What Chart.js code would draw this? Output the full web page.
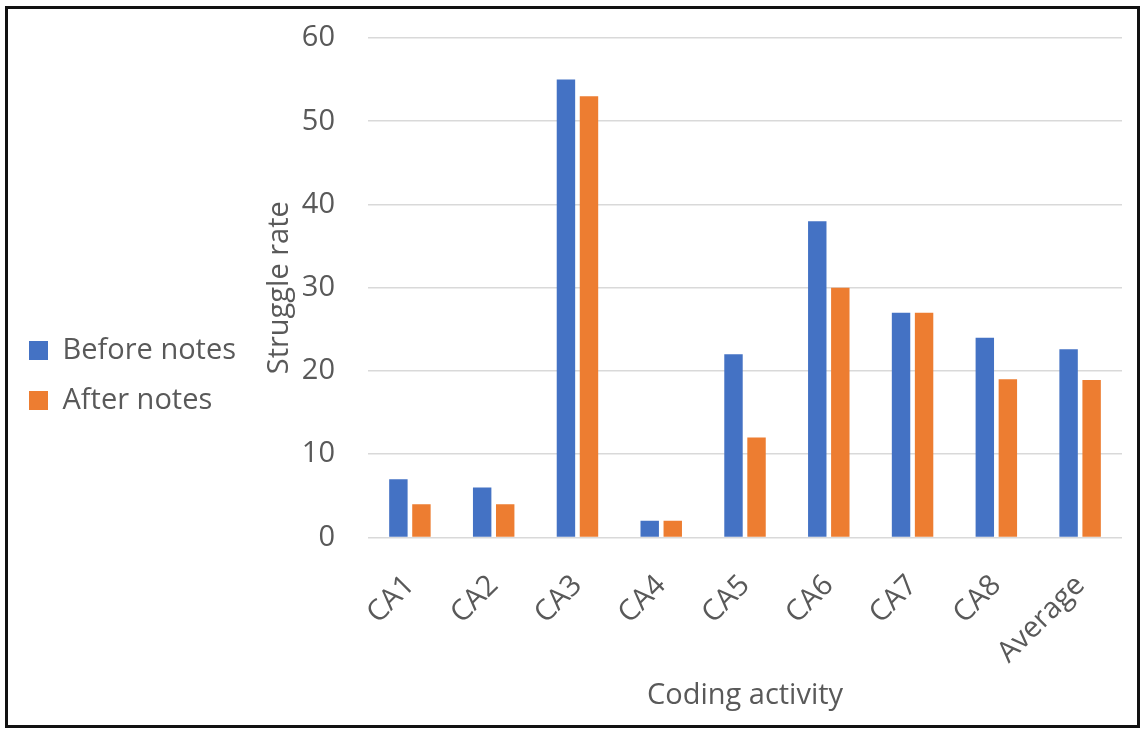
<!DOCTYPE html>
<html>
<head>
<meta charset="utf-8">
<script src="https://cdn.jsdelivr.net/npm/chart.js@4/dist/chart.umd.min.js"></script>
<style>
    html, body { margin: 0; padding: 0; background: #fff; }
    #chart-box { position: absolute; left: 0; top: 0; width: 1144px; height: 729px; }
    #frame {
        position: absolute;
        left: 5px; top: 6px;
        width: 1135px; height: 722px;
        border: 3px solid #111;
        box-sizing: border-box;
        pointer-events: none;
    }
</style>
</head>
<body>
<div id="chart-box"><canvas id="struggle-chart"></canvas></div>
<div id="frame"></div>
<script>
// Chart data
const activities = ['CA1', 'CA2', 'CA3', 'CA4', 'CA5', 'CA6', 'CA7', 'CA8', 'Average'];
const beforeNotes = [7, 6, 55, 2, 22, 38, 27, 24, 22.6];
const afterNotes = [4, 4, 53, 2, 12, 30, 27, 19, 18.9];
const yTicks = [0, 10, 20, 30, 40, 50, 60];

const textColor = '#595959';
const fontFamily = '"Open Sans", "Noto Sans", sans-serif';
const fontSize = 29;

new Chart(document.getElementById('struggle-chart'), {
    type: 'bar',
    data: {
        labels: activities,
        datasets: [
            {
                label: 'Before notes',
                data: beforeNotes,
                backgroundColor: '#4472C4',
                categoryPercentage: 0.55,
                barPercentage: 0.8,
            },
            {
                label: 'After notes',
                data: afterNotes,
                backgroundColor: '#ED7D31',
                categoryPercentage: 0.55,
                barPercentage: 0.8,
            }
        ]
    },
    options: {
        responsive: true,
        maintainAspectRatio: false,
        animation: false,
        layout: { autoPadding: false, padding: { left: 8, right: 22, top: 38, bottom: 16 } },
        plugins: {
            legend: {
                position: 'left',
                labels: {
                    color: textColor,
                    font: { family: fontFamily, size: fontSize },
                    boxWidth: 19,
                    boxHeight: 19,
                    padding: 21,
                }
            },
            tooltip: { enabled: false },
        },
        scales: {
            x: {
                grid: { display: false },
                border: { display: false },
                ticks: {
                    color: textColor,
                    font: { family: fontFamily, size: fontSize },
                    maxRotation: 45,
                    minRotation: 45,
                    padding: 23,
                },
                title: {
                    display: true,
                    text: 'Coding activity',
                    color: textColor,
                    font: { family: fontFamily, size: fontSize },
                    padding: { top: -15, bottom: 0 },
                }
            },
            y: {
                min: 0,
                max: 60,
                afterBuildTicks: axis => { axis.ticks = yTicks.map(v => ({ value: v })); },
                // pull the plot area closer to the axis title, drop the extra top/bottom room
                afterFit: axis => {
                    axis.width -= 30;
                    axis.paddingTop = 0;
                    axis.paddingBottom = 0;
                },
                grid: { color: '#D9D9D9', lineWidth: 1.5, drawTicks: false },
                border: { display: false },
                ticks: {
                    color: textColor,
                    font: { family: fontFamily, size: fontSize },
                    padding: 33,
                },
                title: {
                    display: true,
                    text: 'Struggle rate',
                    color: textColor,
                    font: { family: fontFamily, size: fontSize },
                    padding: { top: 16, bottom: 2 },
                }
            }
        }
    }
});
</script>
</body>
</html>
